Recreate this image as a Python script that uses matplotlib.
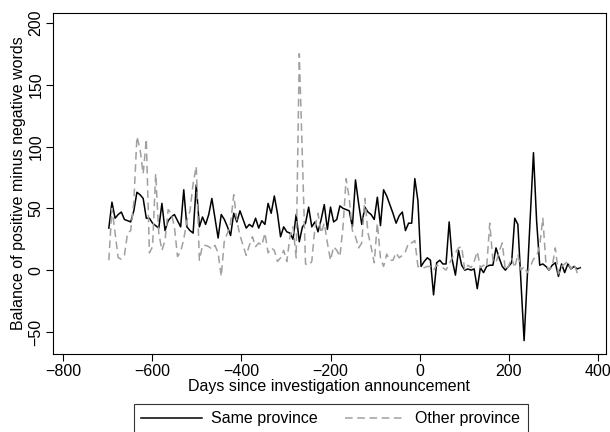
import numpy as np
import matplotlib
matplotlib.use("Agg")
import matplotlib.pyplot as plt

plt.rcParams['font.family'] = ['Liberation Sans', 'DejaVu Sans']

# weekly observations, days relative to the announcement
days = np.arange(-697, 361, 7)

same_province = [
    34, 55, 42, 45, 47, 41, 40, 39, 48, 63, 61, 58, 42, 42, 38, 36, 34, 54, 32, 40, 43, 45, 40, 35,
    65, 35, 32, 30, 69, 35, 43, 37, 45, 58, 42, 26, 45, 41, 35, 28, 46, 39, 48, 41, 34, 37, 35, 42, 34,
    40, 37, 54, 46, 60, 46, 27, 35, 31, 30, 25, 45, 23, 35, 38, 51, 35, 39, 31, 41, 53, 33, 51, 39, 41, 52,
    50, 49, 48, 35, 73, 54, 37, 51, 47, 45, 41, 59, 36, 65, 60, 53, 46, 38, 44, 47, 32, 38, 38, 74, 56, 3,
    7, 10, 8, -20, 6, 8, 5, 5, 39, 8, -4, 16, 4, 0, 1, 0, 1, -15, 2, -2, 3, 4, 4, 18, 10, 3,
    0, 3, 6, 42, 37, -10, -57, -6, 45, 95, 40, 4, 5, 3, 0, 4, 6, -5, 5, -2, 5, 1, 3, 1, 2,
]

other_province = [
    8, 50, 30, 10, 9, 12, 30, 32, 55, 108, 98, 78, 106, 14, 19, 78, 30, 16, 24, 49, 46, 35, 11, 15,
    25, 40, 48, 70, 84, 8, 20, 20, 19, 17, 20, 14, -5, 24, 30, 38, 61, 40, 28, 20, 12, 20, 27, 19, 22,
    20, 30, 14, 18, 16, 7, 10, 16, 7, 27, 35, 10, 175, 90, 5, 4, 7, 34, 46, 30, 38, 22, 8, 19, 16, 11,
    35, 74, 58, 32, 27, 18, 22, 58, 30, 19, 6, 38, 10, 3, 13, 8, 8, 14, 10, 12, 15, 22, 22, 24, 3, 2,
    2, 3, 3, 0, 4, 3, 2, 0, 5, 10, 14, 18, 19, 0, 4, 2, 7, 15, 2, 4, 2, 38, 8, 6, 15, 22,
    0, 3, 10, 2, 13, 0, 3, -2, 3, 9, 11, 20, 42, 5, 0, 3, 18, -3, 3, 5, 7, 1, 5, -2, 2,
]

fig = plt.figure(figsize=(6.1, 4.32), dpi=100)
ax = fig.add_axes([0.087, 0.18, 0.906, 0.79])

ax.plot(days, same_province, color='black', lw=1.1, label='Same province')
ax.plot(days, other_province, color='#a0a0a0', lw=1.1, ls=(0, (5, 3)), label='Other province')

ax.set_xlim(-822, 417)
ax.set_ylim(-68, 208)
ax.set_xticks(range(-800, 401, 200))
ax.set_yticks(range(-50, 201, 50))
ax.set_xticklabels([str(v).replace('-', '\u2212') for v in range(-800, 401, 200)])
ax.set_yticklabels([str(v).replace('-', '\u2212') for v in range(-50, 201, 50)],
                   rotation=90, va='center')
ax.tick_params(direction='out', length=5, width=0.8, labelsize=11.5, pad=2)
for s in ax.spines.values():
    s.set_linewidth(0.8)

ax.set_xlabel('Days since investigation announcement', fontsize=11.5, labelpad=0)
ax.set_ylabel('Balance of positive minus negative words', fontsize=11.5, labelpad=2)

leg = fig.legend(loc='lower center', bbox_to_anchor=(0.542, -0.022), ncol=2, frameon=True,
                 fancybox=False, edgecolor='black', fontsize=11.5, handlelength=3.8,
                 columnspacing=1.7, borderpad=0.45, handletextpad=0.6)
leg.get_frame().set_linewidth(0.8)

fig.savefig('out.png', dpi=100)
